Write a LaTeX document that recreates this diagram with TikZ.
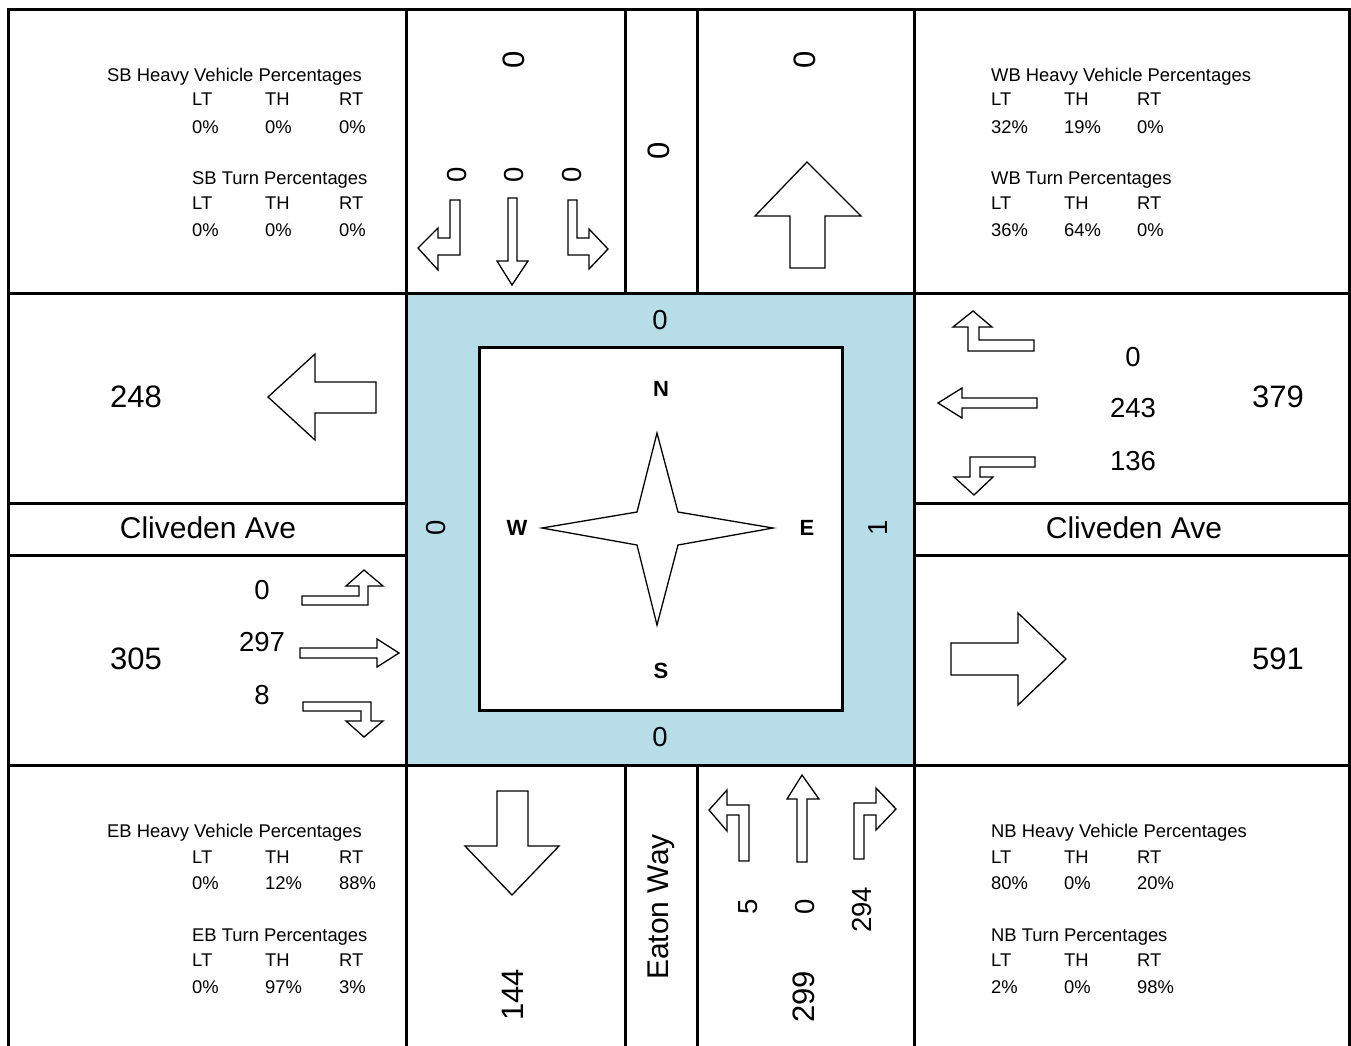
\documentclass[tikz,border=0pt]{standalone}
\usepackage{fontspec}
\setmainfont{Liberation Sans}
\definecolor{roadblue}{RGB}{183,221,232}
\begin{document}
\begin{tikzpicture}[x=1pt,y=-1pt,
  grid/.style={line width=3pt},
  arr/.style={draw=black, line width=1.3pt, fill=white, line join=miter},
  sm/.style={font=\fontsize{18.4}{20}\selectfont, inner sep=0pt, anchor=base west},
  md/.style={font=\fontsize{27.5}{30}\selectfont, inner sep=0pt},
  bg/.style={font=\fontsize{31}{34}\selectfont, inner sep=0pt},
  st/.style={font=\fontsize{30}{32}\selectfont, inner sep=0pt},
  cmp/.style={font=\fontsize{22}{24}\selectfont\bfseries, inner sep=0pt}]
\useasboundingbox (0,0) rectangle (1351,1045);
\fill[white] (0,0) rectangle (1351,1045);
% centre square
\fill[roadblue] (406,293) rectangle (914,765);
\draw[line width=3pt, fill=white] (479,347) rectangle (842,710);
% grid
\draw[grid] (8,1050) -- (8,9) -- (1349,9) -- (1349,1050);
\draw[grid] (8,293) -- (1349,293);
\draw[grid] (8,765) -- (1349,765);
\draw[grid] (8,503) -- (406,503) (914,503) -- (1349,503);
\draw[grid] (8,555) -- (406,555) (914,555) -- (1349,555);
\draw[grid] (406,9) -- (406,1050) (914,9) -- (914,1050);
\draw[grid] (625,9) -- (625,293) (625,765) -- (625,1050);
\draw[grid] (697,9) -- (697,293) (697,765) -- (697,1050);
% compass star
\draw[arr] (657,433) -- (678,512) -- (773,528) -- (678,545) -- (657,625) -- (637,545) -- (542,528) -- (637,512) -- cycle;
\node[cmp] (n) at (661,389) {N};
\node[cmp] (s) at (661,671) {S};
\node[cmp] (w) at (517,528) {W};
\node[cmp] (e) at (807,528) {E};
% centre labels
\node[md] (cn) at (660,320) {0};
\node[md] (cs) at (660,737) {0};
\node[md, rotate=90] (cw) at (436,528) {0};
\node[md, rotate=90] (ce) at (878,528) {1};
% street names
\node[st] (cl) at (208,528) {Cliveden Ave};
\node[st] (cr) at (1134,528) {Cliveden Ave};
\node[st, rotate=90] (ew) at (661,907) {Eaton Way};
% SB approach
\draw[arr] (450,200) -- (460,200) -- (460,255) -- (438,255) -- (438,270) -- (418,248) -- (438,228) -- (438,238) -- (450,238) -- cycle;
\draw[arr] (508,198) -- (517,198) -- (517,261) -- (528,261) -- (512,285) -- (497,261) -- (508,261) -- cycle;
\draw[arr] (568,200) -- (577,200) -- (577,238) -- (589,238) -- (589,229) -- (608,249) -- (589,269) -- (589,255) -- (568,255) -- cycle;
\node[bg, rotate=90] (sbt) at (514,60) {0};
\node[md, rotate=90] (sbl) at (457,175) {0};
\node[md, rotate=90] (sbh) at (514,175) {0};
\node[md, rotate=90] (sbr) at (572,175) {0};
\node[bg, rotate=90] (sbm) at (659,151) {0};
% NB departure
\draw[arr] (790,268) -- (790,216) -- (755,216) -- (807,162) -- (861,216) -- (825,216) -- (825,268) -- cycle;
\node[bg, rotate=90] (nbo) at (805,60) {0};
% WB approach
\draw[arr] (1034,340) -- (1034,351) -- (968,351) -- (968,327) -- (953,327) -- (973,311) -- (992,327) -- (979,327) -- (979,340) -- cycle;
\draw[arr] (1037,398) -- (1037,408) -- (962,408) -- (962,418) -- (938,403) -- (962,388) -- (962,398) -- cycle;
\draw[arr] (1035,457) -- (1035,467) -- (980,467) -- (980,477) -- (993,477) -- (974,495) -- (954,477) -- (970,477) -- (970,457) -- cycle;
\node[md] (wbr) at (1133,357) {0};
\node[md] (wbh) at (1133,408) {243};
\node[md] (wbl) at (1133,461) {136};
\node[bg] (wbt) at (1278,397) {379};
% WB departure
\draw[arr] (376,382) -- (376,413) -- (315,413) -- (315,440) -- (268,397) -- (315,354) -- (315,382) -- cycle;
\node[bg] (wbo) at (136,397) {248};
% EB approach
\draw[arr] (302,596) -- (359,596) -- (359,586) -- (346,586) -- (364,570) -- (383,586) -- (368,586) -- (368,605) -- (302,605) -- cycle;
\draw[arr] (300,648) -- (377,648) -- (377,639) -- (399,653) -- (377,667) -- (377,658) -- (300,658) -- cycle;
\draw[arr] (303,702) -- (371,702) -- (371,721) -- (383,721) -- (364,737) -- (346,721) -- (361,721) -- (361,711) -- (303,711) -- cycle;
\node[md] (ebl) at (262,590) {0};
\node[md] (ebh) at (262,642) {297};
\node[md] (ebr) at (262,695) {8};
\node[bg] (ebt) at (136,659) {305};
% EB departure
\draw[arr] (951,643) -- (1018,643) -- (1018,613) -- (1066,659) -- (1018,705) -- (1018,675) -- (951,675) -- cycle;
\node[bg] (ebo) at (1278,659) {591};
% SB departure
\draw[arr] (497,791) -- (528,791) -- (528,846) -- (559,846) -- (512,895) -- (465,846) -- (497,846) -- cycle;
\node[bg, rotate=90] (sbo) at (513,995) {144};
% NB approach
\draw[arr] (739,861) -- (749,861) -- (749,805) -- (727,805) -- (727,790) -- (709,810) -- (727,831) -- (727,815) -- (739,815) -- cycle;
\draw[arr] (797,862) -- (807,862) -- (807,799) -- (819,799) -- (802,775) -- (787,799) -- (797,799) -- cycle;
\draw[arr] (854,859) -- (864,859) -- (864,815) -- (876,815) -- (876,830) -- (896,809) -- (876,788) -- (876,803) -- (854,803) -- cycle;
\node[md, rotate=90] (nbl) at (748,907) {5};
\node[md, rotate=90] (nbh) at (805,907) {0};
\node[md, rotate=90] (nbr) at (862,910) {294};
\node[bg, rotate=90] (nbt) at (804,997) {299};
% SB info
\node[sm] (sbh1) at (107,81.5) {SB Heavy Vehicle Percentages};
\node[sm] (sbh1a) at (192,105.5) {LT};
\node[sm] (sbh1b) at (265,105.5) {TH};
\node[sm] (sbh1c) at (339,105.5) {RT};
\node[sm] (sbh1d) at (192,133.5) {0\%};
\node[sm] (sbh1e) at (265,133.5) {0\%};
\node[sm] (sbh1f) at (339,133.5) {0\%};
\node[sm] (sbh2) at (192,184.5) {SB Turn Percentages};
\node[sm] (sbh2a) at (192,209.5) {LT};
\node[sm] (sbh2b) at (265,209.5) {TH};
\node[sm] (sbh2c) at (339,209.5) {RT};
\node[sm] (sbh2d) at (192,236.5) {0\%};
\node[sm] (sbh2e) at (265,236.5) {0\%};
\node[sm] (sbh2f) at (339,236.5) {0\%};
% WB info
\node[sm] (wbh1) at (991,81.5) {WB Heavy Vehicle Percentages};
\node[sm] (wbh1a) at (991,105.5) {LT};
\node[sm] (wbh1b) at (1064,105.5) {TH};
\node[sm] (wbh1c) at (1137,105.5) {RT};
\node[sm] (wbh1d) at (991,133.5) {32\%};
\node[sm] (wbh1e) at (1064,133.5) {19\%};
\node[sm] (wbh1f) at (1137,133.5) {0\%};
\node[sm] (wbh2) at (991,184.5) {WB Turn Percentages};
\node[sm] (wbh2a) at (991,209.5) {LT};
\node[sm] (wbh2b) at (1064,209.5) {TH};
\node[sm] (wbh2c) at (1137,209.5) {RT};
\node[sm] (wbh2d) at (991,236.5) {36\%};
\node[sm] (wbh2e) at (1064,236.5) {64\%};
\node[sm] (wbh2f) at (1137,236.5) {0\%};
% EB info
\node[sm] (ebh1) at (107,837.5) {EB Heavy Vehicle Percentages};
\node[sm] (ebh1a) at (192,863.5) {LT};
\node[sm] (ebh1b) at (265,863.5) {TH};
\node[sm] (ebh1c) at (339,863.5) {RT};
\node[sm] (ebh1d) at (192,889.5) {0\%};
\node[sm] (ebh1e) at (265,889.5) {12\%};
\node[sm] (ebh1f) at (339,889.5) {88\%};
\node[sm] (ebh2) at (192,941.5) {EB Turn Percentages};
\node[sm] (ebh2a) at (192,966.5) {LT};
\node[sm] (ebh2b) at (265,966.5) {TH};
\node[sm] (ebh2c) at (339,966.5) {RT};
\node[sm] (ebh2d) at (192,993.5) {0\%};
\node[sm] (ebh2e) at (265,993.5) {97\%};
\node[sm] (ebh2f) at (339,993.5) {3\%};
% NB info
\node[sm] (nbh1) at (991,837.5) {NB Heavy Vehicle Percentages};
\node[sm] (nbh1a) at (991,863.5) {LT};
\node[sm] (nbh1b) at (1064,863.5) {TH};
\node[sm] (nbh1c) at (1137,863.5) {RT};
\node[sm] (nbh1d) at (991,889.5) {80\%};
\node[sm] (nbh1e) at (1064,889.5) {0\%};
\node[sm] (nbh1f) at (1137,889.5) {20\%};
\node[sm] (nbh2) at (991,941.5) {NB Turn Percentages};
\node[sm] (nbh2a) at (991,966.5) {LT};
\node[sm] (nbh2b) at (1064,966.5) {TH};
\node[sm] (nbh2c) at (1137,966.5) {RT};
\node[sm] (nbh2d) at (991,993.5) {2\%};
\node[sm] (nbh2e) at (1064,993.5) {0\%};
\node[sm] (nbh2f) at (1137,993.5) {98\%};
\end{tikzpicture}
\end{document}
